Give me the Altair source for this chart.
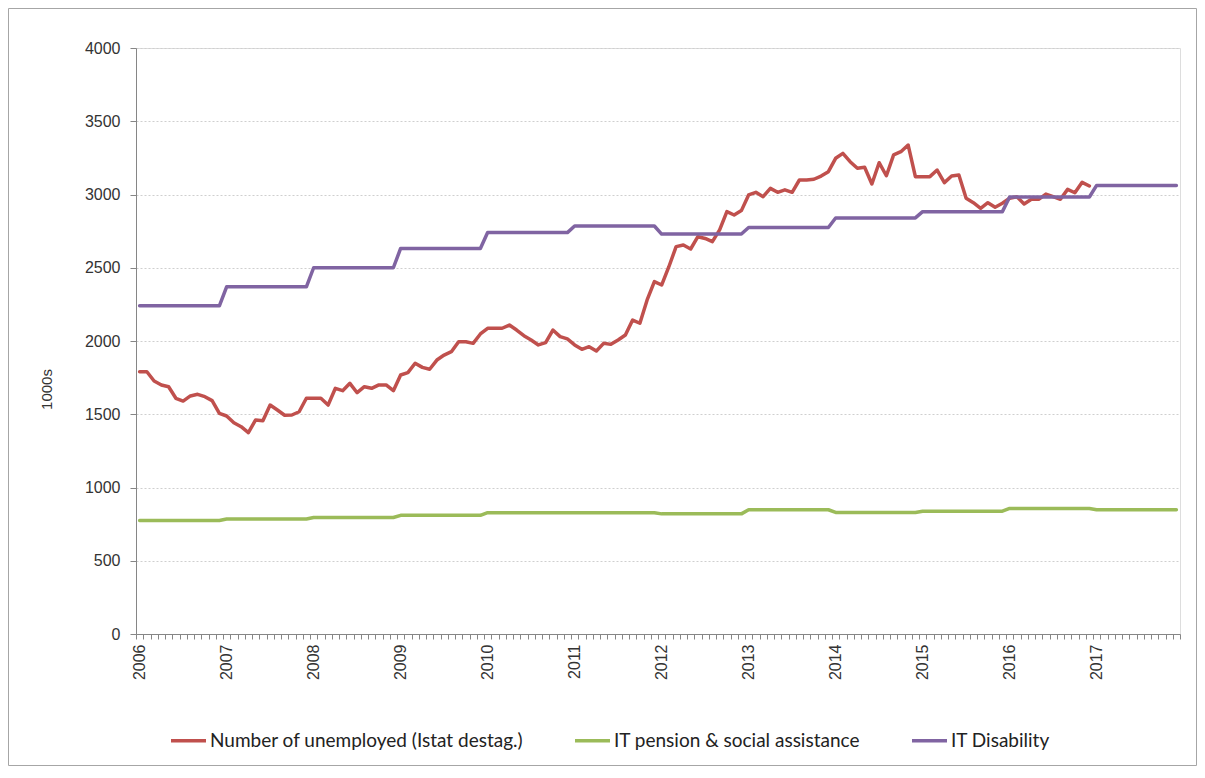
import altair as alt
import pandas as pd

# ---- data ----
series_names = [
    "Number of unemployed (Istat destag.)",
    "IT pension & social assistance",
    "IT Disability",
]
series_colors = ["#C0504D", "#9BBB59", "#8064A2"]

years = list(range(2006, 2018))

# monthly, Jan 2006 - Dec 2016
unemployed = [
    1790, 1790, 1727, 1700, 1688, 1609, 1590, 1625, 1636, 1620, 1593, 1506,
    1488, 1442, 1415, 1374, 1461, 1456, 1563, 1529, 1493, 1495, 1517, 1609,
    1609, 1609, 1563, 1677, 1661, 1711, 1647, 1688, 1677, 1700, 1700, 1661,
    1768, 1784, 1848, 1820, 1807, 1870, 1904, 1927, 1995, 1995, 1984, 2048,
    2087, 2087, 2087, 2109, 2075, 2036, 2007, 1973, 1989, 2075, 2030, 2014,
    1973, 1943, 1961, 1932, 1984, 1977, 2007, 2041, 2143, 2121, 2280, 2405,
    2382, 2507, 2644, 2655, 2628, 2712, 2700, 2678, 2758, 2883, 2860, 2890,
    2997, 3015, 2985, 3042, 3015, 3032, 3015, 3099, 3099, 3104, 3126, 3156,
    3247, 3281, 3224, 3179, 3186, 3072, 3217, 3128, 3270, 3292, 3338, 3122,
    3122, 3122, 3167, 3081, 3126, 3133, 2974, 2944, 2906, 2944, 2913, 2940,
    2974, 2985, 2935, 2967, 2967, 3003, 2985, 2967, 3035, 3012, 3083, 3058,
]

# yearly levels (same value every month of the year), 2006 - 2017
pension = [775, 785, 795, 810, 828, 828, 820, 848, 830, 838, 857, 848]
disability = [2240, 2370, 2500, 2632, 2740, 2785, 2730, 2775, 2840, 2883, 2983, 3062]

y_ticks = list(range(0, 4001, 500))

# ---- table ----
rows = []
for i, v in enumerate(unemployed):
    rows.append({"m": i + 0.5, "value": v, "series": series_names[0]})
for yi, v in enumerate(pension):
    for k in range(12):
        rows.append({"m": yi * 12 + k + 0.5, "value": v, "series": series_names[1]})
for yi, v in enumerate(disability):
    for k in range(12):
        rows.append({"m": yi * 12 + k + 0.5, "value": v, "series": series_names[2]})
df = pd.DataFrame(rows)
df["order"] = df["series"].map({n: i for i, n in enumerate(series_names)})

n_months = len(years) * 12
W, H = 1044, 586

x_label_expr = (
    f"datum.value % 12 == 0 && datum.value < {n_months} ? "
    "toString(2006 + datum.value / 12) : ''"
)

lines = alt.Chart(df).mark_line(strokeWidth=3.5, strokeJoin="round", strokeCap="round").encode(
    x=alt.X(
        "m:Q",
        scale=alt.Scale(domain=[0, n_months], nice=False, zero=False),
        axis=alt.Axis(
            title=None,
            values=list(range(0, n_months + 1)),
            labelExpr=x_label_expr,
            labelAngle=-90,
            labelAlign="right",
            labelBaseline="middle",
            labelOffset=3.0,
            labelOverlap=False,
            labelFlush=False,
            labelBound=False,
            labelPadding=5,
            labelFont="Liberation Sans",
            labelFontSize=16,
            labelColor="#333333",
            tickSize=5,
            tickColor="#868686",
            domainColor="#868686",
            grid=False,
        ),
    ),
    y=alt.Y(
        "value:Q",
        scale=alt.Scale(domain=[0, 4000], nice=False),
        axis=alt.Axis(
            title="1000s",
            values=y_ticks,
            format="d",
            labelFont="Liberation Sans",
            labelFontSize=16,
            labelColor="#333333",
            labelPadding=10,
            tickSize=6,
            tickColor="#868686",
            domainColor="#868686",
            gridColor="#cfcfcf",
            gridDash=[2, 2],
            titleFont="Liberation Sans",
            titleFontSize=15,
            titleFontWeight="normal",
            titleColor="#333333",
            titleAngle=-90,
            titleX=-90,
            titleY=341,
            titleAlign="center",
            titleBaseline="middle",
        ),
    ),
    color=alt.Color(
        "series:N",
        scale=alt.Scale(domain=series_names, range=series_colors),
        legend=alt.Legend(
            title=None,
            orient="none",
            legendX=33,
            legendY=673,
            direction="horizontal",
            symbolType="stroke",
            symbolSize=1225,
            symbolStrokeWidth=3.5,
            labelFont="Lato",
            labelFontSize=19,
            labelColor="#222222",
            labelLimit=0,
            labelOffset=2,
            columnPadding=44,
            padding=0,
        ),
    ),
    order=alt.Order("order:Q"),
)

border = alt.Chart(pd.DataFrame({"a": [0]})).mark_rect(
    fillOpacity=0, stroke="#a6a6a6", strokeWidth=1
).encode(
    x=alt.value(-127.5), x2=alt.value(1060.5), y=alt.value(-39.5), y2=alt.value(717.5)
)

chart = alt.layer(border, lines).properties(
    width=W,
    height=H,
    padding={"left": 128, "top": 40, "right": 17, "bottom": 132},
    autosize=alt.AutoSizeParams(type="none"),
).configure_view(stroke=None).configure(background="white")

chart.save("out.html", embed_options={"renderer": "svg", "actions": False})
